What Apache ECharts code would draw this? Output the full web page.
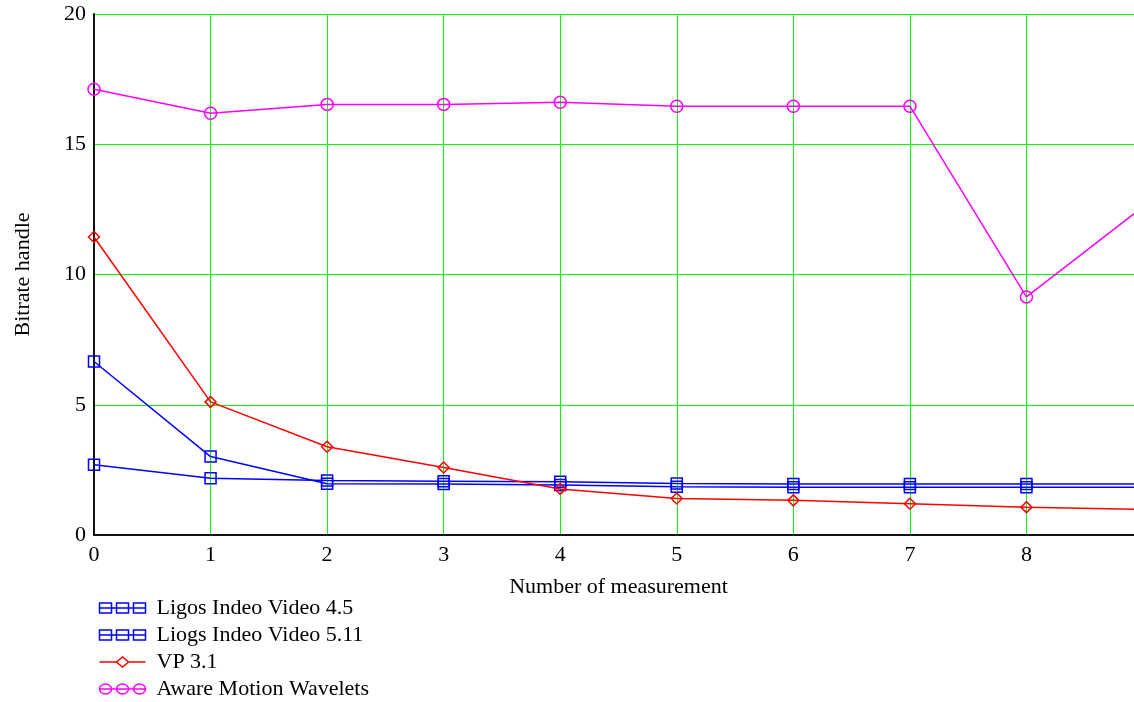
<!DOCTYPE html>
<html>
<head>
<meta charset="utf-8">
<script src="https://cdn.jsdelivr.net/npm/echarts@6/dist/echarts.min.js"></script>
<style>html,body{margin:0;padding:0;background:#fff;}#c{width:1134px;height:702px;}</style>
</head>
<body>
<div id="c"></div>
<script>
const xValues = [0, 1, 2, 3, 4, 5, 6, 7, 8, 9];
const ligos45 = [6.66, 3.01, 1.97, 1.96, 1.92, 1.85, 1.83, 1.83, 1.83, 1.83];
const ligos511 = [2.70, 2.18, 2.09, 2.06, 2.04, 1.98, 1.96, 1.96, 1.96, 1.96];
const vp31 = [11.44, 5.11, 3.39, 2.59, 1.77, 1.40, 1.33, 1.20, 1.07, 0.98];
const aware = [17.11, 16.19, 16.53, 16.53, 16.61, 16.46, 16.46, 16.46, 9.14, 12.6];
const seriesNames = ['Ligos Indeo Video 4.5', 'Liogs Indeo Video 5.11', 'VP 3.1', 'Aware Motion Wavelets'];
const xAxisName = 'Number of measurement';
const yAxisName = 'Bitrate handle';

const font = 'Liberation Serif';
const fs = 22;
const pair = (ys) => xValues.map((x, i) => [x, ys[i]]);

const tripleSquare = 'path://M0,0H12V10H0Z M17,0H29V10H17Z M34,0H46V10H34Z M0,5H46';
const tripleCircle = 'path://M0,5A6,5,0,1,0,12,5A6,5,0,1,0,0,5Z M17,5A6,5,0,1,0,29,5A6,5,0,1,0,17,5Z M34,5A6,5,0,1,0,46,5A6,5,0,1,0,34,5Z M0,5H46';
const lineDiamond = 'path://M0,5H17 M17,5L23,0L29,5L23,10Z M29,5H46';

const chart = echarts.init(document.getElementById('c'), null, {renderer: 'canvas'});
chart.setOption({
  animation: false,
  backgroundColor: '#fff',
  textStyle: {fontFamily: font, color: '#000'},
  grid: {left: 94, top: 14, right: -9, bottom: 167, containLabel: false, outerBoundsMode: 'none'},
  xAxis: {
    type: 'value', min: 0, max: 9, interval: 1,
    name: xAxisName, nameLocation: 'middle', nameGap: 41,
    nameTextStyle: {fontFamily: font, fontSize: fs, color: '#000'},
    axisLine: {show: true, onZero: false, lineStyle: {color: '#111', width: 2}},
    axisTick: {show: false},
    axisLabel: {fontFamily: font, fontSize: fs, color: '#000', margin: 9},
    splitLine: {show: true, lineStyle: {color: '#00ff00', width: 1}}
  },
  yAxis: {
    type: 'value', min: 0, max: 20, interval: 5,
    name: yAxisName, nameLocation: 'middle', nameGap: 60, nameRotate: 90,
    nameTextStyle: {fontFamily: font, fontSize: fs, color: '#000'},
    axisLine: {show: true, onZero: false, lineStyle: {color: '#111', width: 2}},
    axisTick: {show: false},
    axisLabel: {fontFamily: font, fontSize: fs, color: '#000', margin: 8},
    splitLine: {show: true, lineStyle: {color: '#00ff00', width: 1}}
  },
  legend: {
    orient: 'vertical', left: 92, top: 592, height: 140,
    itemWidth: 46, itemHeight: 11, itemGap: 5,
    textStyle: {fontFamily: font, fontSize: fs, lineHeight: 22, color: '#000', padding: [0, 0, 0, 6]},
    data: [
      {name: seriesNames[0], icon: tripleSquare, itemStyle: {color: 'none', borderColor: '#0000ff', borderWidth: 1.5}},
      {name: seriesNames[1], icon: tripleSquare, itemStyle: {color: 'none', borderColor: '#0000ff', borderWidth: 1.5}},
      {name: seriesNames[2], icon: lineDiamond, itemStyle: {color: 'none', borderColor: '#ff0000', borderWidth: 1.5}},
      {name: seriesNames[3], icon: tripleCircle, itemStyle: {color: 'none', borderColor: '#ff00ff', borderWidth: 1.5}}
    ]
  },
  series: [
    {name: seriesNames[0], type: 'line', data: pair(ligos45), symbol: 'rect', symbolSize: 11,
     lineStyle: {color: '#0000ff', width: 1.5}, itemStyle: {color: 'rgba(255,255,255,0)', borderColor: '#0000ff', borderWidth: 1.5}, clip: true},
    {name: seriesNames[1], type: 'line', data: pair(ligos511), symbol: 'rect', symbolSize: 11,
     lineStyle: {color: '#0000ff', width: 1.5}, itemStyle: {color: 'rgba(255,255,255,0)', borderColor: '#0000ff', borderWidth: 1.5}, clip: true},
    {name: seriesNames[2], type: 'line', data: pair(vp31), symbol: 'diamond', symbolSize: [11, 11],
     lineStyle: {color: '#ff0000', width: 1.5}, itemStyle: {color: 'rgba(255,255,255,0)', borderColor: '#ff0000', borderWidth: 1.5}, clip: true},
    {name: seriesNames[3], type: 'line', data: pair(aware), symbol: 'circle', symbolSize: 12,
     lineStyle: {color: '#ff00ff', width: 1.5}, itemStyle: {color: 'rgba(255,255,255,0)', borderColor: '#ff00ff', borderWidth: 1.5}, clip: true}
  ]
});
</script>
</body>
</html>
